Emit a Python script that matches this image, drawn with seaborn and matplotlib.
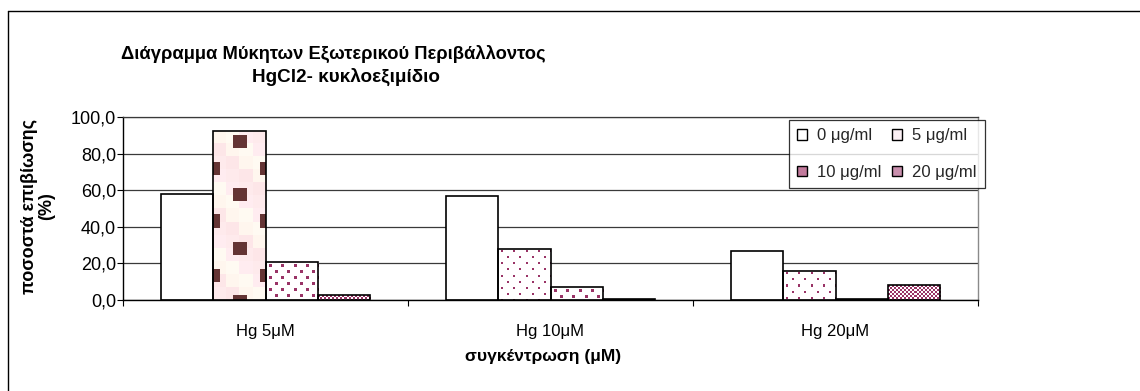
import numpy as np
import pandas as pd
import matplotlib
matplotlib.use("Agg")
import matplotlib.pyplot as plt
from matplotlib.lines import Line2D
from matplotlib.patches import Patch
from matplotlib.ticker import FuncFormatter, FixedLocator
import seaborn as sns

# ---- data -------------------------------------------------------------
categories = ["Hg 5μM", "Hg 10μM", "Hg 20μM"]
doses = ["0 μg/ml", "5 μg/ml", "10 μg/ml", "20 μg/ml"]
surv_0 = [58.0, 57.0, 27.0]
surv_5 = [92.5, 28.0, 16.0]
surv_10 = [20.5, 7.0, 0.5]
surv_20 = [2.5, 0.5, 8.0]
y_ticks = [0, 20, 40, 60, 80, 100]

title_1 = "Διάγραμμα Μύκητων Εξωτερικού Περιβάλλοντος"
title_2 = "HgCl2- κυκλοεξιμίδιο"
y_label = "ποσοστά επιβίωσης\n(%)"
x_label = "συγκέντρωση (μM)"

df = pd.DataFrame({
    "conc": np.repeat(categories, len(doses)),
    "dose": doses * len(categories),
    "surv": [v for trio in zip(surv_0, surv_5, surv_10, surv_20) for v in trio],
})

# ---- style ------------------------------------------------------------
sns.set_theme(style="white")
plt.rcParams["font.family"] = ["Liberation Sans", "DejaVu Sans"]
plt.rcParams["font.size"] = 12

W, H = 1140, 391
fig = plt.figure(figsize=(W / 100, H / 100), dpi=100)
fig.patch.set_facecolor("white")
ax = fig.add_axes([123 / W, 1 - 300 / H, 855 / W, 183 / H])

sns.barplot(data=df, x="conc", y="surv", hue="dose", order=categories,
            hue_order=doses, width=0.73, gap=0, dodge=True,
            palette=["white"] * 4, edgecolor="black", linewidth=1.2,
            saturation=1, legend=False, ax=ax, zorder=2)

ax.set_xlim(-0.5, 2.5)
ax.set_ylim(0, 100)

# ---- fill textures for the bars ----------------------------------------
MAROON = np.array([0x99, 0x33, 0x66]) / 255
BROWN = np.array([0x64, 0x34, 0x34]) / 255


def tex_dots(h, w, size):
    arr = np.ones((h, w, 3))
    for k, r0 in enumerate(range(2, h, 6)):
        off = 3 + (6 if k % 2 else 0)
        for c0 in range(off, w, 12):
            arr[r0:r0 + size, c0:c0 + size] = MAROON
    return arr


def tex_checker(h, w):
    arr = np.ones((h, w, 3))
    ii, jj = np.indices((h, w))
    arr[((ii // 2) + (jj // 2)) % 2 == 0] = MAROON
    return arr


def tex_blocks(h, w):
    pinks = np.array([[255, 246, 238], [255, 236, 240], [253, 230, 232],
                      [255, 250, 242], [254, 234, 236]]) / 255
    arr = np.ones((h, w, 3))
    cell = 13
    for bi, r0 in enumerate(range(0, h, cell)):
        for bj, c0 in enumerate(range(0, w, cell)):
            arr[r0:r0 + cell, c0:c0 + cell] = pinks[(bi * 2 + bj * 3) % len(pinks)]
    step = 26.5
    k = 0
    while True:
        r0 = int(round(5 + k * step))
        if r0 >= h:
            break
        xs = [20] if k % 2 == 0 else [-6, 46]
        for c0 in xs:
            a, b = max(c0, 0), min(c0 + 13, w)
            if b > a:
                arr[r0:r0 + 13, a:b] = BROWN
        k += 1
    return arr


fig.canvas.draw()
textures = {1: "dots_small", 2: "dots_big", 3: "checker"}
for hue_i, container in enumerate(ax.containers):
    for cat_i, bar in enumerate(container):
        kind = textures.get(hue_i)
        if hue_i == 1 and cat_i == 0:
            kind = "blocks"
        if kind is None:
            continue
        x0, y0 = bar.get_x(), bar.get_y()
        x1, y1 = x0 + bar.get_width(), y0 + bar.get_height()
        (px0, py0), (px1, py1) = ax.transData.transform([(x0, y0), (x1, y1)])
        w_px, h_px = int(round(px1 - px0)), int(round(py1 - py0))
        if h_px < 2:
            continue
        if kind == "dots_small":
            img = tex_dots(h_px, w_px, 2)
        elif kind == "dots_big":
            img = tex_dots(h_px, w_px, 3)
        elif kind == "checker":
            img = tex_checker(h_px, w_px)
        else:
            img = tex_blocks(h_px, w_px)
        im = ax.imshow(img, extent=(x0, x1, y0, y1), origin="upper",
                       interpolation="nearest", aspect="auto", zorder=1.5)
        im.set_clip_path(bar)
        bar.set_facecolor("none")
        bar.set_zorder(2)

ax.set_xlim(-0.5, 2.5)
ax.set_ylim(0, 100)
ax.set_aspect("auto")

# ---- axes, grid, ticks --------------------------------------------------
ax.set_axisbelow(True)
ax.yaxis.set_major_locator(FixedLocator(y_ticks))
ax.yaxis.set_major_formatter(FuncFormatter(lambda v, p: f"{v:.1f}".replace(".", ",")))
ax.grid(axis="y", color="#3a3a3a", linewidth=0.9)
ax.grid(axis="x", visible=False)

ax.xaxis.set_major_locator(FixedLocator([-0.5, 0.5, 1.5, 2.5]))
ax.xaxis.set_major_formatter(FuncFormatter(lambda v, p: ""))
ax.xaxis.set_minor_locator(FixedLocator([0, 1, 2]))
ax.xaxis.set_minor_formatter(FuncFormatter(lambda v, p: categories[int(round(v))]))
ax.tick_params(axis="x", which="major", direction="out", length=4, width=0.8,
               color="black", bottom=True)
ax.tick_params(axis="x", which="minor", length=0, pad=17, labelsize=12,
               labelcolor="black", bottom=True)
ax.tick_params(axis="y", direction="out", length=4, width=0.8, color="black",
               pad=1, labelsize=13, labelcolor="black", left=True)

for side in ["left", "bottom"]:
    ax.spines[side].set_color("black")
    ax.spines[side].set_linewidth(1.0)
ax.spines["right"].set_color("#8a8a8a")
ax.spines["right"].set_linewidth(1.0)
ax.spines["top"].set_color("#3a3a3a")
ax.spines["top"].set_linewidth(0.9)

ax.set_xlabel(x_label, fontsize=12.5, fontweight="bold", color="black")
ax.xaxis.set_label_coords((543 - 123) / 855, -(356 - 300) / 183)
ax.xaxis.label.set_va("center")
ax.set_ylabel(y_label, fontsize=13, fontweight="bold", color="black",
              linespacing=1.05, multialignment="center")
ax.yaxis.label.set_va("center")
ax.yaxis.set_label_coords((38 - 123) / 855, (300 - 206) / 183)

# ---- title ---------------------------------------------------------------
fig.text(333 / W, 1 - 54 / H, title_1, ha="center", va="center",
         fontsize=13.2, fontweight="bold", color="black")
fig.text(346 / W, 1 - 77 / H, title_2, ha="center", va="center",
         fontsize=13.6, fontweight="bold", color="black")

# ---- legend (row-wise order: 0, 5 / 10, 20) ------------------------------
swatches = {
    doses[0]: Patch(facecolor="white", edgecolor="black", linewidth=1),
    doses[1]: Patch(facecolor="#fbf0f4", edgecolor="black", linewidth=1),
    doses[2]: Patch(facecolor="#c27a9c", edgecolor="black", linewidth=1),
    doses[3]: Patch(facecolor="#c98fad", edgecolor="black", linewidth=1),
}
leg_order = [doses[0], doses[2], doses[1], doses[3]]
leg = ax.legend([swatches[d] for d in leg_order], leg_order, ncol=2, loc="upper left",
                bbox_to_anchor=(789 / W, 1 - 120 / H), bbox_transform=fig.transFigure,
                frameon=True, fancybox=False, shadow=False, fontsize=12,
                handlelength=0.6, handleheight=0.6, handletextpad=0.6,
                columnspacing=0.6, labelspacing=1.3, borderpad=0.5,
                borderaxespad=0)
leg.get_frame().set_edgecolor("black")
leg.get_frame().set_linewidth(0.9)
leg.set_zorder(5)

# ---- outer frame ------------------------------------------------------------
fig.add_artist(Line2D([8 / W, 8 / W], [1 - 11 / H, 0], transform=fig.transFigure,
                      color="black", linewidth=1.0))
fig.add_artist(Line2D([8 / W, 1], [1 - 11 / H, 1 - 11 / H], transform=fig.transFigure,
                      color="black", linewidth=1.0))

fig.savefig("out.png", dpi=100, facecolor="white")
